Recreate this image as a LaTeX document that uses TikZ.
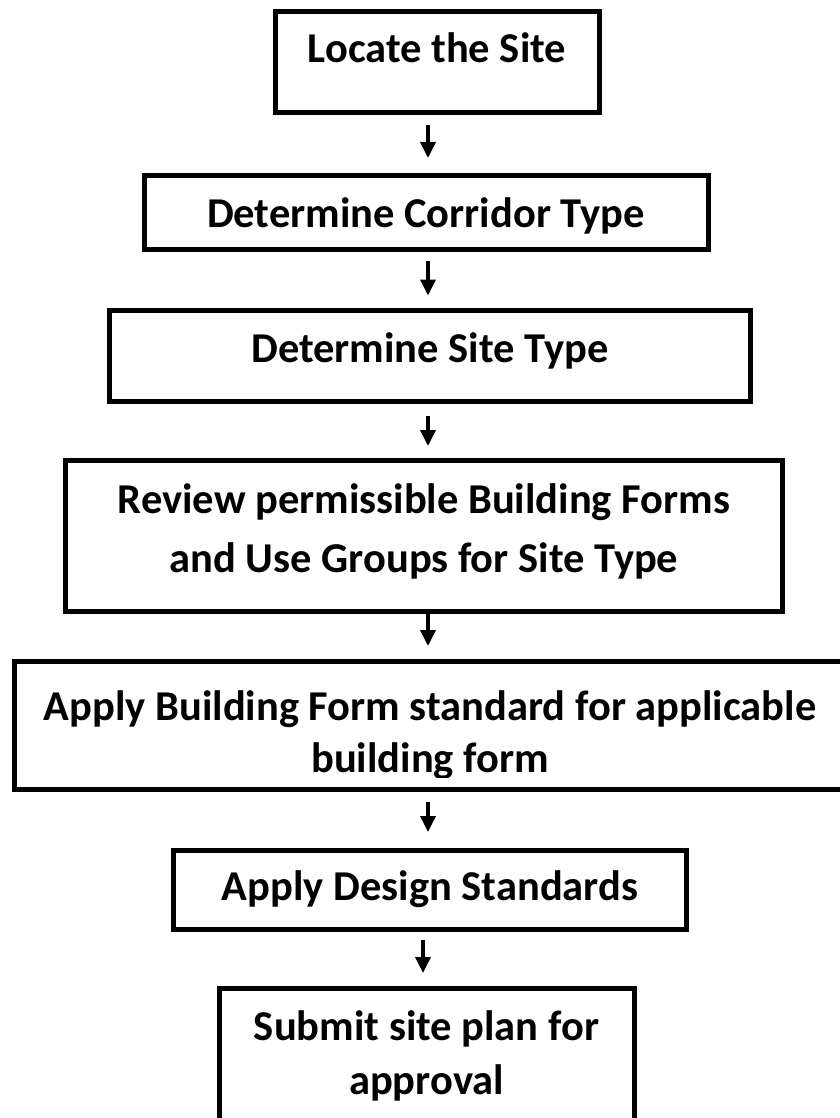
\documentclass[tikz,border=0pt]{standalone}
\usepackage{fontspec}
\setmainfont{Carlito}
\usetikzlibrary{arrows.meta}
\tikzset{
  flowbox/.style={draw=black, line width=5pt, rectangle, inner sep=0pt},
  flowtext/.style={inner sep=0pt, anchor=base,
    font=\bfseries\fontsize{42.5}{58}\selectfont},
  flowarrow/.style={line width=3.5pt, -{Triangle[width=15pt,length=16pt]}}
}
\begin{document}
\begin{tikzpicture}[x=1pt,y=1pt]
\useasboundingbox (0,0) rectangle (839,-1118);
\coordinate (ax) at (428,0);
\coordinate (bx) at (423,0);
% boxes
\node[flowbox, minimum width=324, minimum height=101] (b1) at (437.5,-62) {};
\node[flowbox, minimum width=564, minimum height=74] (b2) at (426.5,-212.5) {};
\node[flowbox, minimum width=641, minimum height=91] (b3) at (430,-355.5) {};
\node[flowbox, minimum width=717, minimum height=151] (b4) at (424,-536) {};
\node[flowbox, minimum width=833, minimum height=128] (b5) at (431,-725.5) {};
\node[flowbox, minimum width=513, minimum height=79] (b6) at (430,-890) {};
\node[flowbox, minimum width=415, minimum height=149] (b7) at (427,-1063) {};
% texts
\node[flowtext] (t1) at (437,-63) {Locate the Site};
\node[flowtext] (t2) at (426,-227.5) {Determine Corridor Type};
\node[flowtext] (t3) at (430,-362) {Determine Site Type};
\node[flowtext] (t4a) at (424,-513) {Review permissible Building Forms};
\node[flowtext] (t4b) at (424,-572) {and Use Groups for Site Type};
\begin{scope}
\clip (12,-655) rectangle (850,-777);
\node[flowtext] (t5a) at (430,-720) {Apply Building Form standard for applicable};
\node[flowtext] (t5b) at (430,-772) {building form};
\end{scope}
\node[flowtext] (t6) at (430,-900) {Apply Design Standards};
\node[flowtext] (t7a) at (426.5,-1040) {Submit site plan for};
\node[flowtext] (t7b) at (426.5,-1094) {approval};
% arrows
\draw[flowarrow, shorten <=10pt, shorten >=15pt] (b1.south -| ax) -- (b2.north -| ax);
\draw[flowarrow, shorten <=9pt, shorten >=12pt] (b2.south -| ax) -- (b3.north -| ax);
\draw[flowarrow, shorten <=12pt, shorten >=12pt] (b3.south -| ax) -- (b4.north -| ax);
\draw[flowarrow, shorten >=13pt] (b4.south -| ax) -- (b5.north -| ax);
\draw[flowarrow, shorten <=10pt, shorten >=16pt] (b5.south -| ax) -- (b6.north -| ax);
\draw[flowarrow, shorten <=8pt, shorten >=13pt] (b6.south -| bx) -- (b7.north -| bx);
\end{tikzpicture}
\end{document}
